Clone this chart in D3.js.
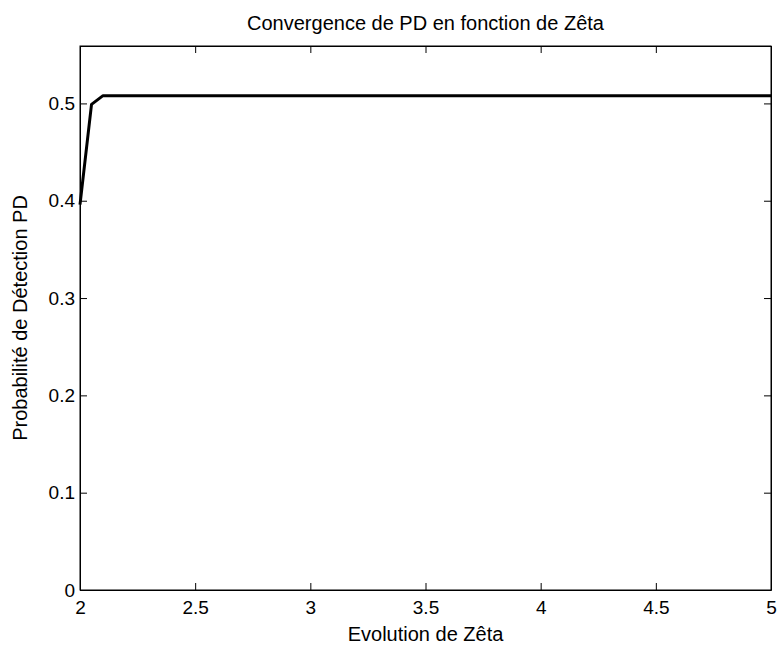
<!DOCTYPE html>
<html>
<head>
<meta charset="utf-8">
<script src="https://cdn.jsdelivr.net/npm/d3@7"></script>
<style>
  body { margin: 0; background: #fff; }
  text { font-family: "Liberation Sans", Arial, Helvetica, sans-serif; fill: #000; }
</style>
</head>
<body>
<div id="chart"></div>
<script>
// valeurs
var zeta = [2, 2.05, 2.1, 2.2, 2.3, 2.4, 2.5, 2.6, 2.7, 2.8, 2.9, 3, 3.1, 3.2, 3.3, 3.4, 3.5,
            3.6, 3.7, 3.8, 3.9, 4, 4.1, 4.2, 4.3, 4.4, 4.5, 4.6, 4.7, 4.8, 4.9, 5];
var pd = [0.396, 0.499, 0.508, 0.508, 0.508, 0.508, 0.508, 0.508, 0.508, 0.508, 0.508, 0.508,
          0.508, 0.508, 0.508, 0.508, 0.508, 0.508, 0.508, 0.508, 0.508, 0.508, 0.508, 0.508,
          0.508, 0.508, 0.508, 0.508, 0.508, 0.508, 0.508, 0.508];
var xTicks = [2, 2.5, 3, 3.5, 4, 4.5, 5];
var yTicks = [0, 0.1, 0.2, 0.3, 0.4, 0.5];

function init() {
    var w = 778;
    var h = 646;
    var margin = {top: 46, right: 7, bottom: 56, left: 80};
    var iw = w - margin.left - margin.right;
    var ih = h - margin.top - margin.bottom;

    var x = d3.scaleLinear().domain([2, 5]).range([0, iw]);
    var y = d3.scaleLinear().domain([0, 0.559]).range([ih, 0]);

    var svg = d3.select("#chart")
                .append("svg")
                .attr("width", w)
                .attr("height", h);

    var g = svg.append("g")
               .attr("transform", "translate(" + margin.left + "," + margin.top + ")");

    // box
    g.append("rect")
     .attr("width", iw)
     .attr("height", ih)
     .attr("fill", "none")
     .attr("stroke", "#000")
     .attr("stroke-width", 1);

    var fmt = function(d) { return String(d); };

    g.append("g")
     .attr("class", "axis")
     .attr("transform", "translate(0," + ih + ")")
     .call(d3.axisBottom(x).tickValues(xTicks).tickFormat(fmt).tickSize(-7).tickPadding(11).tickSizeOuter(0));

    g.append("g")
     .attr("class", "axis")
     .call(d3.axisTop(x).tickValues(xTicks).tickFormat("").tickSize(-7).tickSizeOuter(0));

    g.append("g")
     .attr("class", "axis")
     .call(d3.axisLeft(y).tickValues(yTicks).tickFormat(fmt).tickSize(-7).tickPadding(5).tickSizeOuter(0));

    g.append("g")
     .attr("class", "axis")
     .attr("transform", "translate(" + iw + ",0)")
     .call(d3.axisRight(y).tickValues(yTicks).tickFormat("").tickSize(-7).tickSizeOuter(0));

    g.selectAll(".axis text")
     .style("font-family", "\"Liberation Sans\", Arial, Helvetica, sans-serif")
     .style("font-size", "19px")
     .attr("fill", "#000");
    g.selectAll(".axis .domain").attr("stroke", "#000");
    g.selectAll(".axis line").attr("stroke", "#000");

    // courbe
    var line = d3.line()
                 .x(function(d, i) { return x(zeta[i]); })
                 .y(function(d) { return y(d); });

    g.append("path")
     .datum(pd)
     .attr("fill", "none")
     .attr("stroke", "#000")
     .attr("stroke-width", 3)
     .attr("stroke-linejoin", "round")
     .attr("d", line);

    // titres
    svg.append("text")
       .attr("x", margin.left + iw / 2)
       .attr("y", 30)
       .attr("text-anchor", "middle")
       .style("font-size", "20px")
       .text("Convergence de PD en fonction de Zêta");

    svg.append("text")
       .attr("x", margin.left + iw / 2)
       .attr("y", 641)
       .attr("text-anchor", "middle")
       .style("font-size", "20px")
       .text("Evolution de Zêta");

    svg.append("text")
       .attr("transform", "translate(27," + (margin.top + ih / 2) + ") rotate(-90)")
       .attr("text-anchor", "middle")
       .style("font-size", "20px")
       .text("Probabilité de Détection PD");
}
window.onload = init;
</script>
</body>
</html>
